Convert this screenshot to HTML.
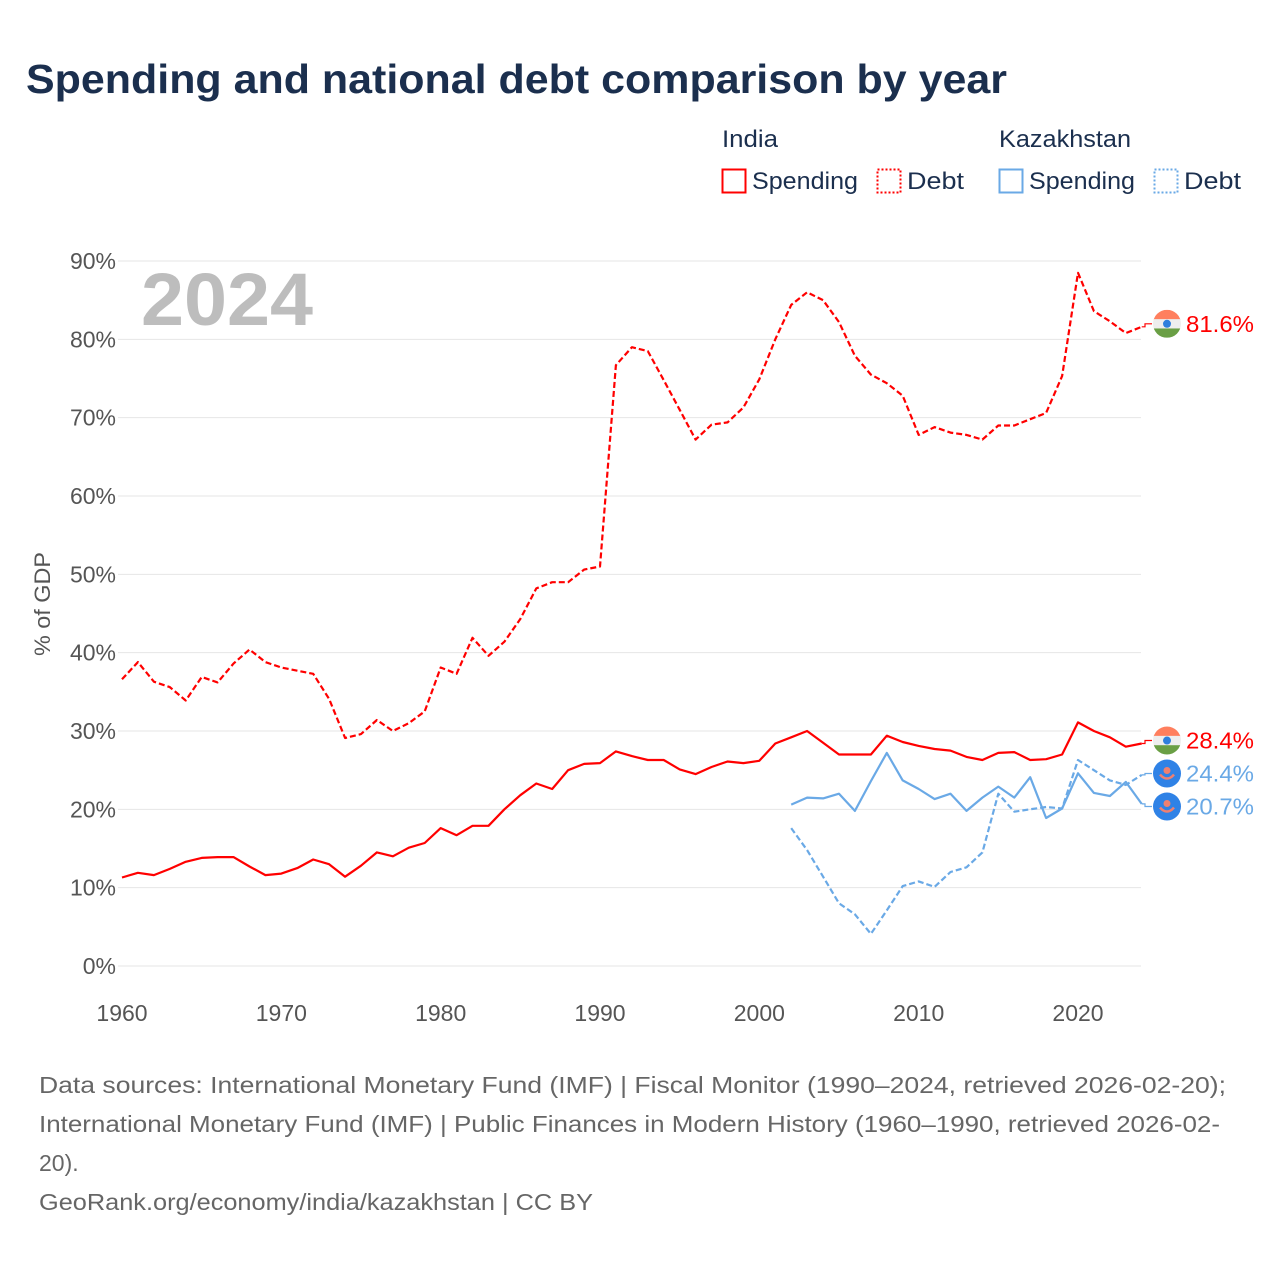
<!DOCTYPE html>
<html><head><meta charset="utf-8">
<style>
html,body{margin:0;padding:0;background:#fff;}
body{width:1280px;height:1280px;overflow:hidden;font-family:"Liberation Sans",sans-serif;}
</style></head>
<body>
<svg id="chart" width="1280" height="1280" xmlns="http://www.w3.org/2000/svg" font-family="Liberation Sans, sans-serif">
  <text x="26" y="93" font-size="41" font-weight="bold" fill="#1b2f4e" textLength="981" lengthAdjust="spacingAndGlyphs">Spending and national debt comparison by year</text>
  <g font-size="24" fill="#1b2f4e">
    <text x="722" y="147" textLength="56" lengthAdjust="spacingAndGlyphs">India</text>
    <text x="999" y="147" textLength="132" lengthAdjust="spacingAndGlyphs">Kazakhstan</text>
    <g>
      <rect x="722.5" y="169.5" width="23" height="23" fill="none" stroke="#ff0000" stroke-width="2"/>
      <text x="752" y="189" textLength="106" lengthAdjust="spacingAndGlyphs">Spending</text></g>
    <g>
      <rect x="877.5" y="169.5" width="23" height="23" fill="none" stroke="#ff0000" stroke-width="2" stroke-dasharray="2,2"/>
      <text x="907" y="189" textLength="57" lengthAdjust="spacingAndGlyphs">Debt</text></g>
    <g>
      <rect x="999.5" y="169.5" width="23" height="23" fill="none" stroke="#6aa9e6" stroke-width="2"/>
      <text x="1029" y="189" textLength="106" lengthAdjust="spacingAndGlyphs">Spending</text></g>
    <g>
      <rect x="1154.5" y="169.5" width="23" height="23" fill="none" stroke="#6aa9e6" stroke-width="2" stroke-dasharray="2,2"/>
      <text x="1184" y="189" textLength="57" lengthAdjust="spacingAndGlyphs">Debt</text></g>
  </g>
  <text x="141" y="325" font-size="74" font-weight="bold" fill="#bdbdbd" textLength="172" lengthAdjust="spacingAndGlyphs">2024</text>
  <g id="grid"></g>
  <g id="series"></g>
  <g id="labels"></g>
  <text transform="translate(50,604) rotate(-90)" text-anchor="middle" font-size="22" fill="#555" textLength="104" lengthAdjust="spacingAndGlyphs">% of GDP</text>
  <g font-size="23" fill="#666">
    <text x="39" y="1093" textLength="1187" lengthAdjust="spacingAndGlyphs">Data sources: International Monetary Fund (IMF) | Fiscal Monitor (1990–2024, retrieved 2026-02-20);</text>
    <text x="39" y="1132" textLength="1181" lengthAdjust="spacingAndGlyphs">International Monetary Fund (IMF) | Public Finances in Modern History (1960–1990, retrieved 2026-02-</text>
    <text x="39" y="1171">20).</text>
    <text x="39" y="1210" textLength="554" lengthAdjust="spacingAndGlyphs">GeoRank.org/economy/india/kazakhstan | CC BY</text>
  </g>
</svg>
<script>
const yTicks = [0,10,20,30,40,50,60,70,80,90];
const xTicks = [1960,1970,1980,1990,2000,2010,2020];
const years = [];
for (let y = 1960; y <= 2024; y++) years.push(y);
const indiaSpending = [11.3,11.9,11.6,12.4,13.3,13.8,13.9,13.9,12.7,11.6,11.8,12.5,13.6,13.0,11.4,12.8,14.5,14.0,15.1,15.7,17.6,16.7,17.9,17.9,20.0,21.8,23.3,22.6,25.0,25.8,25.9,27.4,26.8,26.3,26.3,25.1,24.5,25.4,26.1,25.9,26.2,28.4,29.2,30.0,28.5,27.0,27.0,27.0,29.4,28.6,28.1,27.7,27.5,26.7,26.3,27.2,27.3,26.3,26.4,27.0,31.1,30.0,29.2,28.0,28.4];
const indiaDebt = [36.6,38.8,36.3,35.6,33.9,36.9,36.2,38.6,40.4,38.8,38.1,37.7,37.3,34.1,29.1,29.6,31.4,30.0,31.0,32.5,38.1,37.3,41.9,39.6,41.4,44.3,48.2,49.0,49.0,50.6,51.0,76.7,79.0,78.5,74.8,71.0,67.2,69.1,69.4,71.3,74.9,80.0,84.4,86.0,85.0,82.2,77.9,75.5,74.4,72.8,67.8,68.8,68.1,67.8,67.2,69.0,69.0,69.8,70.6,75.3,88.5,83.6,82.3,80.8,81.6];
const kazYears = [];
for (let y = 2002; y <= 2024; y++) kazYears.push(y);
const kazSpending = [20.6,21.5,21.4,22.0,19.8,23.6,27.2,23.7,22.6,21.3,22.0,19.8,21.5,22.9,21.5,24.1,18.9,20.1,24.6,22.1,21.7,23.5,20.7];
const kazDebt = [17.6,14.8,11.4,8.0,6.6,4.1,7.1,10.2,10.8,10.1,12.0,12.6,14.5,22.0,19.7,20.0,20.3,20.1,26.3,25.0,23.7,23.1,24.4];

const NS = "http://www.w3.org/2000/svg";
const X = y => 122 + (y - 1960) * (1078 - 122) / 60;
const Y = v => 966 - v * (966 - 261) / 90;
const mk = (tag, attrs, parent) => { const e = document.createElementNS(NS, tag); for (const k in attrs) e.setAttribute(k, attrs[k]); parent.appendChild(e); return e; };

const grid = document.getElementById('grid');
yTicks.forEach(t => {
  const l = mk('line', {x1:118, x2:1141, y1:Y(t), y2:Y(t), stroke:'#e6e6e6', 'stroke-width':1}, grid);
  
  
  const tx = mk('text', {x:116, y:Y(t)+8, 'text-anchor':'end', 'font-size':23, fill:'#555'}, grid);
  tx.textContent = t + '%';
  
  
});
xTicks.forEach(t => {
  const tx = mk('text', {x:X(t), y:1021, 'text-anchor':'middle', 'font-size':23, fill:'#555'}, grid);
  tx.textContent = t;
  
  
});

const series = document.getElementById('series');
function line(xs, vs, color, dash, name) {
  const d = vs.map((v, i) => (i ? 'L' : 'M') + X(xs[i]).toFixed(1) + ',' + Y(v).toFixed(1)).join('');
  const p = mk('path', {d:d, fill:'none', stroke:color, 'stroke-width':2.2, 'stroke-linejoin':'round'}, series);
  if (dash) p.setAttribute('stroke-dasharray', '6,3');
  
  
}
line(years, indiaDebt, '#ff0000', true, 'india-debt-line');
line(years, indiaSpending, '#ff0000', false, 'india-spending-line');
line(kazYears, kazDebt, '#6aa9e6', true, 'kazakhstan-debt-line');
line(kazYears, kazSpending, '#6aa9e6', false, 'kazakhstan-spending-line');

const labels = document.getElementById('labels');
const ends = [
  {v: indiaDebt[indiaDebt.length-1], c:'#ff0000', flag:'india', name:'india-debt'},
  {v: indiaSpending[indiaSpending.length-1], c:'#ff0000', flag:'india', name:'india-spending'},
  {v: kazDebt[kazDebt.length-1], c:'#6aa9e6', flag:'kaz', name:'kazakhstan-debt'},
  {v: kazSpending[kazSpending.length-1], c:'#6aa9e6', flag:'kaz', name:'kazakhstan-spending'}
];
ends.forEach(e => e.y = Y(e.v) - 3);
ends.sort((a,b) => a.y - b.y);
for (let i = 1; i < ends.length; i++) if (ends[i].y - ends[i-1].y < 33) ends[i].y = ends[i-1].y + 33;
for (let i = ends.length - 2; i >= 0; i--) if (ends[i+1].y - ends[i].y < 33) ends[i].y = ends[i+1].y - 33;
ends.forEach(e => {
  const g = mk('g', {}, labels);
  
  
  mk('path', {d:`M${X(2024)},${Y(e.v)}H1145V${e.y}H1152`, fill:'none', stroke:e.c, 'stroke-width':1.2}, g);
  const cx = 1167, cy = e.y, r = 14;
  if (e.flag === 'india') {
    const cp = mk('clipPath', {id:'cp'+e.name}, g);
    mk('circle', {cx:cx, cy:cy, r:r}, cp);
    const fg = mk('g', {'clip-path':`url(#cp${e.name})`}, g);
    mk('rect', {x:cx-r, y:cy-r, width:2*r, height:2*r/3+0.5, fill:'#ff7f5e'}, fg);
    mk('rect', {x:cx-r, y:cy-r/3, width:2*r, height:2*r/3, fill:'#eeeeee'}, fg);
    mk('rect', {x:cx-r, y:cy+r/3, width:2*r, height:2*r/3, fill:'#6a9f45'}, fg);
    mk('circle', {cx:cx, cy:cy, r:4, fill:'#2f7fdd'}, fg);
  } else {
    mk('circle', {cx:cx, cy:cy, r:r, fill:'#2f82e6'}, g);
    mk('circle', {cx:cx, cy:cy-3, r:3.5, fill:'#f08070'}, g);
    mk('path', {d:`M${cx-7},${cy+1}Q${cx},${cy+9} ${cx+7},${cy+1}`, fill:'none', stroke:'#f08070', 'stroke-width':2.5}, g);
  }
  const t = mk('text', {x:1186, y:e.y+8, 'font-size':23, fill:e.c}, g);
  t.setAttribute('textLength', '68');
  t.setAttribute('lengthAdjust', 'spacingAndGlyphs');
  t.textContent = e.v.toFixed(1) + '%';
});
</script>
</body></html>
